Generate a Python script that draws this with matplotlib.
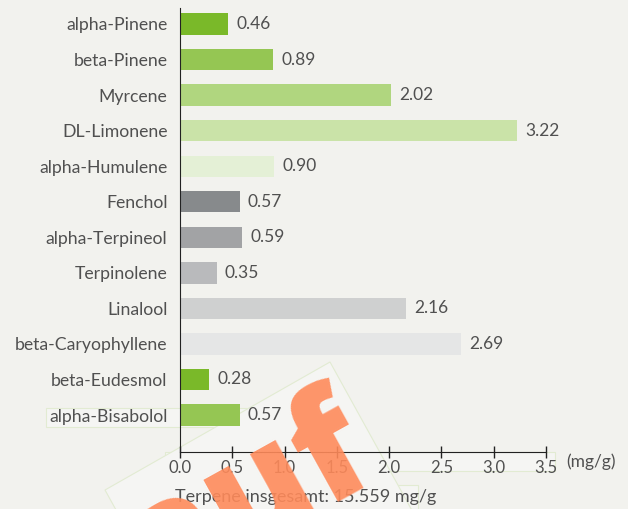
#!/usr/bin/env python3

"""
Terpene profile as horizontal bars, values in mg/g.
"""

import matplotlib
matplotlib.use("Agg")
import matplotlib.pyplot as plt
from matplotlib.patches import Polygon, Rectangle

terpenes = ["alpha-Pinene", "beta-Pinene", "Myrcene", "DL-Limonene",
            "alpha-Humulene", "Fenchol", "alpha-Terpineol", "Terpinolene",
            "Linalool", "beta-Caryophyllene", "beta-Eudesmol",
            "alpha-Bisabolol"]
amounts = [0.46, 0.89, 2.02, 3.22, 0.90, 0.57, 0.59, 0.35, 2.16, 2.69,
           0.28, 0.57]
bar_colors = ["#7ab929", "#95c653", "#b0d67f", "#cae3a8", "#e4f0d6",
              "#878a8c", "#a2a3a5", "#b9babc", "#cfd0d0", "#e5e6e6",
              "#7ab929", "#95c653"]
xticks = [0.0, 0.5, 1.0, 1.5, 2.0, 2.5, 3.0, 3.5]
unit = "(mg/g)"
total_text = "Terpene insgesamt: 15.559 mg/g"

W, H = 628, 509
BG = "#f2f2ee"
TXT = "#505050"
FONT = ["Lato", "DejaVu Sans"]


def px(x, y):
    """pixel position (top-left origin) -> figure fraction"""
    return x / W, 1 - y / H


def main():
    plt.rcParams["font.family"] = FONT
    fig = plt.figure(figsize=(W / 100, H / 100), dpi=100, facecolor=BG)

    # faint whiter boxes from the page behind the chart
    edge = "#e2ebd2"
    for x0, y0, x1, y1 in [(46, 408, 281, 427), (165, 452, 555, 471),
                           (175, 485, 418, 509)]:
        l, b = px(x0, y1)
        r, t = px(x1, y0)
        fig.patches.append(Rectangle((l, b), r - l, t - b,
                                     transform=fig.transFigure,
                                     facecolor="#f5f5f3", edgecolor=edge,
                                     lw=0.8, zorder=-2))
    # rotated banner under the stamp
    banner = [px(105, 490), px(330, 362), px(420, 525), px(195, 653)]
    fig.patches.append(Polygon(banner, closed=True,
                               transform=fig.transFigure,
                               facecolor="#f5f5f3", edgecolor=edge,
                               lw=0.8, zorder=-1))

    ax = fig.add_axes([180 / W, 57 / H, 366 / W, 444 / H])
    ax.set_zorder(1)
    ax.set_facecolor("none")
    y = list(range(len(terpenes)))
    ax.barh(y, amounts, height=0.6, color=bar_colors, zorder=2)
    for yi, v in zip(y, amounts):
        ax.text(v + 0.08, yi, f"{v:.2f}", va="center", ha="left",
                fontsize=12.5, color=TXT)

    ax.set_ylim(12.04, -0.45)
    ax.set_xlim(0, 3.5)
    ax.set_yticks(y)
    ax.set_yticklabels(terpenes, fontsize=12.7, color=TXT)
    ax.tick_params(axis="y", length=0, pad=9)
    ax.set_xticks(xticks)
    ax.set_xticklabels([f"{t:.1f}" for t in xticks], fontsize=12,
                       color=TXT)
    ax.tick_params(axis="x", direction="inout", length=8, width=1,
                   color="#222222", pad=2)
    for s in ["top", "right"]:
        ax.spines[s].set_visible(False)
    ax.spines["left"].set_color("#222222")
    ax.spines["bottom"].set_color("#222222")

    fig.text(*px(566, 462), unit, fontsize=12.5, color=TXT, va="center")
    fig.text(*px(175, 497), total_text, fontsize=13, color=TXT,
             va="center")

    # orange stamp lettering lying over the lower part
    fig.text(*px(153, 602), "auf", fontsize=110, fontweight="heavy",
             family=["Open Sans", "DejaVu Sans"], color="#ff8a5a",
             alpha=0.9, rotation=29, rotation_mode="anchor",
             ha="left", va="baseline", zorder=5)

    fig.savefig("out.png", dpi=100, facecolor=BG)


if __name__ == "__main__":
    main()
